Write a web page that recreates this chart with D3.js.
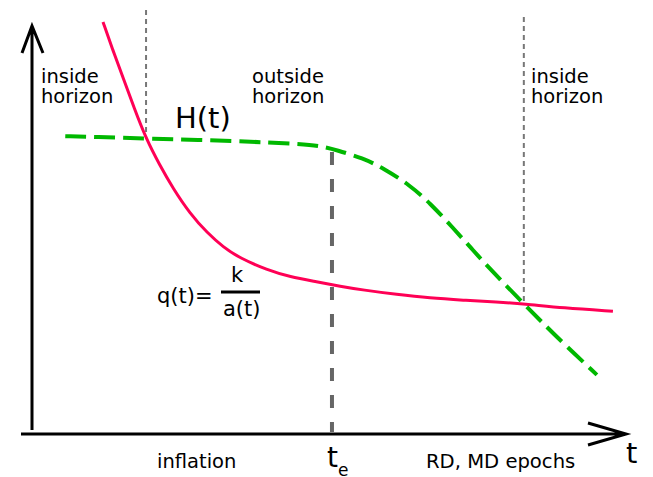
<!DOCTYPE html>
<html>
<head>
<meta charset="utf-8">
<script src="https://cdn.jsdelivr.net/npm/d3@7"></script>
<style>
  body { margin: 0; background: #fff; }
  svg text { font-family: "DejaVu Sans", sans-serif; fill: #000; }
</style>
</head>
<body>
<div class="chart"></div>
<script>
// comoving wavenumber q(t) = k/a(t)  (t, value)
var qT = [11.95, 13.6, 15.3, 17.2, 19.2, 21.5, 23.7, 26.6, 29.5, 32.2, 35.0, 39.6, 43.4, 48.0, 51.9, 55.7, 61.4, 67.0, 72.6, 78.3, 82.8, 89.4, 97.8];
var qV = [101.0, 94.1, 87.5, 79.9, 72.4, 65.9, 60.3, 54.0, 49.3, 45.8, 43.1, 40.2, 38.5, 37.3, 36.2, 35.3, 34.2, 33.3, 32.8, 32.35, 31.9, 30.9, 30.1];

// Hubble rate H(t)
var hT = [5.6, 10.6, 19.2, 35.0, 45.1, 48.5, 51.3, 55.7, 59.1, 63.6, 67.0, 70.9, 74.2, 77.6, 82.8, 86.0, 89.4, 95.1];
var hV = [73.0, 72.8, 72.4, 71.8, 71.1, 70.6, 69.6, 67.6, 65.2, 61.0, 56.6, 50.5, 45.1, 39.7, 31.9, 27.2, 22.3, 14.5];

// horizon crossings and end of inflation
var crossT = [19.2, 82.8];
var crossTop = [103.9, 102.2];
var crossV = [72.4, 31.9];
var tEnd = 50.5;
var tEndTop = 69.1;

var width = 653, height = 477;

var svg = d3.select(".chart").append("svg")
    .attr("width", width)
    .attr("height", height);

var x = d3.scaleLinear().domain([0, 100]).range([32, 626]);
var y = d3.scaleLinear().domain([0, 100]).range([434, 26]);

var line = d3.line()
    .x(function(d){ return x(d[0]); })
    .y(function(d){ return y(d[1]); })
    .curve(d3.curveBasis);

// thin dotted lines at horizon crossings
crossT.forEach(function(t, i){
    svg.append("line")
        .attr("x1", x(t)).attr("x2", x(t))
        .attr("y1", y(crossTop[i])).attr("y2", y(crossV[i]))
        .attr("stroke", "#777")
        .attr("stroke-width", 2)
        .attr("stroke-dasharray", "5,4");
});

// end of inflation
svg.append("line")
    .attr("x1", x(tEnd)).attr("x2", x(tEnd))
    .attr("y1", y(tEndTop)).attr("y2", y(0.5))
    .attr("stroke", "#666")
    .attr("stroke-width", 4)
    .attr("stroke-dasharray", "13,14");

// axes with arrow heads
svg.append("path")
    .attr("d", "M" + x(0) + "," + (y(0) - 4) + "V" + y(100) +
               "M" + (x(0) - 10) + "," + (y(100) + 27) + "L" + x(0) + "," + y(100) +
               "L" + (x(0) + 11) + "," + (y(100) + 27))
    .attr("fill", "none")
    .attr("stroke", "#000")
    .attr("stroke-width", 3);

svg.append("path")
    .attr("d", "M" + (x(0) - 11) + "," + y(0) + "H" + x(100) +
               "M" + (x(100) - 38) + "," + (y(0) - 11) + "L" + x(100) + "," + y(0) +
               "L" + (x(100) - 38) + "," + (y(0) + 11))
    .attr("fill", "none")
    .attr("stroke", "#000")
    .attr("stroke-width", 3);

// curves
svg.append("path")
    .datum(qT.map(function(t, i){ return [t, qV[i]]; }))
    .attr("d", line)
    .attr("fill", "none")
    .attr("stroke", "#ff0055")
    .attr("stroke-width", 3);

svg.append("path")
    .datum(hT.map(function(t, i){ return [t, hV[i]]; }))
    .attr("d", line)
    .attr("fill", "none")
    .attr("stroke", "#00b800")
    .attr("stroke-width", 4)
    .attr("stroke-dasharray", "21,8");

// labels
function label(txt, px, py, size){
    return svg.append("text")
        .attr("x", px).attr("y", py)
        .style("font-size", size + "px")
        .text(txt);
}

label("inside", 41, 83, 19.5);
label("horizon", 41, 103, 19.5);
label("outside", 252, 83, 19.5);
label("horizon", 252, 103, 19.5);
label("inside", 531, 83, 19.5);
label("horizon", 531, 103, 19.5);

label("H(t)", 175, 128, 29);

label("q(t)=", 157, 303, 21);
label("k", 231, 282, 21);
svg.append("line")
    .attr("x1", 221).attr("x2", 260)
    .attr("y1", 292).attr("y2", 292)
    .attr("stroke", "#000")
    .attr("stroke-width", 3);
label("a(t)", 223, 316, 21);

label("inflation", 157, 468, 19.5);
label("RD, MD epochs", 426, 468, 19.6);
label("t", 626, 463, 29);

var te = label("t", x(tEnd) - 5, 467, 28);
te.append("tspan")
    .attr("dy", 9)
    .style("font-size", "17px")
    .text("e");
</script>
</body>
</html>
